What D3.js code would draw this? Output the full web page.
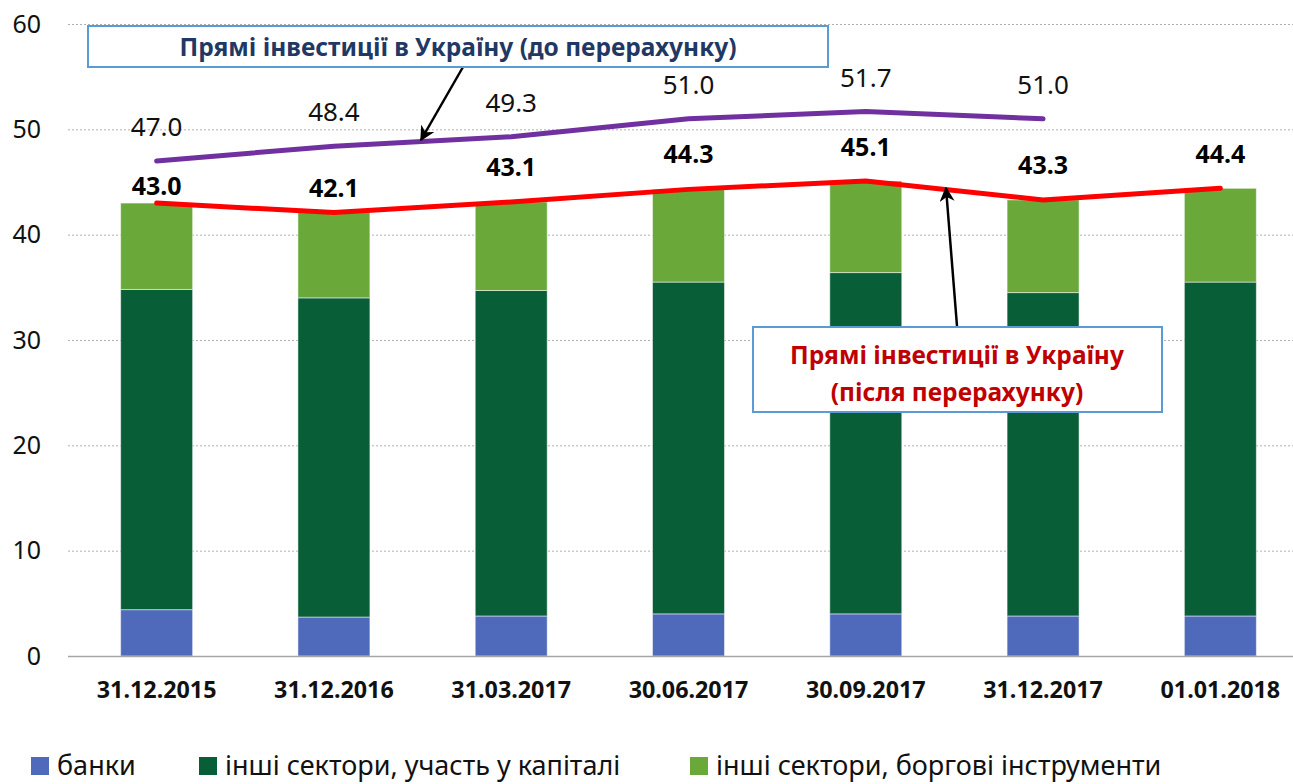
<!DOCTYPE html>
<html>
<head>
<meta charset="utf-8">
<script src="https://cdn.jsdelivr.net/npm/d3@7"></script>
<style>
  body { margin: 0; background: #fff; }
  text { font-family: "Noto Sans", "Open Sans", sans-serif; }
</style>
</head>
<body>
<div id="main"></div>
<script>
// data
var dates = ["31.12.2015", "31.12.2016", "31.03.2017", "30.06.2017", "30.09.2017", "31.12.2017", "01.01.2018"];
var banks = [4.4, 3.7, 3.8, 4.0, 4.0, 3.8, 3.8];
var equity = [30.4, 30.3, 30.9, 31.5, 32.4, 30.7, 31.7];
var totalAfter = [43.0, 42.1, 43.1, 44.3, 45.1, 43.3, 44.4];
var totalBefore = [47.0, 48.4, 49.3, 51.0, 51.7, 51.0];
var yTicks = [0, 10, 20, 30, 40, 50, 60];
var seriesNames = ["банки", "інші сектори, участь у капіталі", "інші сектори, боргові інструменти"];
var redLabelDy = [17, 24, 35, 35, 34, 35, 34];

var ctx = { w: 1293, h: 784 };
var colors = ["#4F69BB", "#085E37", "#6AA83A"];

var debt = totalAfter.map(function(t, i){ return +(t - banks[i] - equity[i]).toFixed(1); });

var createViz = function(){
    var svg = d3.select("#main").append("svg")
        .attr("width", ctx.w)
        .attr("height", ctx.h);

    var x = d3.scaleBand().domain(dates).range([68, 1309]).paddingInner(0.594).paddingOuter(0.297);
    var y = d3.scaleLinear().domain([0, 60]).range([656, 24]);

    // gridlines
    svg.append("g").selectAll("line")
        .data(yTicks.filter(function(d){ return d > 0; }))
        .enter().append("line")
        .attr("x1", 68).attr("x2", ctx.w)
        .attr("y1", function(d){ return y(d) + 0.5; })
        .attr("y2", function(d){ return y(d) + 0.5; })
        .attr("stroke", "#b0b0b0")
        .attr("stroke-dasharray", "2,2");

    // y labels
    svg.append("g").selectAll("text")
        .data(yTicks)
        .enter().append("text")
        .attr("x", 41).attr("y", function(d){ return y(d); })
        .attr("dy", "0.35em")
        .attr("text-anchor", "end")
        .attr("font-size", 25)
        .attr("fill", "#111")
        .text(function(d){ return d; });

    // stacked bars
    var rows = dates.map(function(d, i){ return { date: d, b: banks[i], e: equity[i], g: debt[i] }; });
    var stack = d3.stack().keys(["b", "e", "g"])(rows);
    svg.append("g").selectAll("g")
        .data(stack)
        .enter().append("g")
        .attr("fill", function(d, i){ return colors[i]; })
        .selectAll("rect")
        .data(function(d){ return d; })
        .enter().append("rect")
        .attr("x", function(d){ return x(d.data.date); })
        .attr("width", x.bandwidth())
        .attr("y", function(d){ return y(d[1]); })
        .attr("height", function(d){ return y(d[0]) - y(d[1]); })
        .attr("stroke", "#ffffff")
        .attr("stroke-opacity", 0.5)
        .attr("stroke-width", 1);

    // x axis line
    svg.append("line")
        .attr("x1", 68).attr("x2", ctx.w)
        .attr("y1", 656.5).attr("y2", 656.5)
        .attr("stroke", "#a6a6a6").attr("stroke-width", 1.5);

    // x labels
    svg.append("g").selectAll("text")
        .data(dates)
        .enter().append("text")
        .attr("x", function(d){ return x(d) + x.bandwidth()/2; })
        .attr("y", 690)
        .attr("dy", "0.35em")
        .attr("text-anchor", "middle")
        .attr("font-size", 23.3)
        .attr("font-weight", "bold")
        .attr("fill", "#111")
        .text(function(d){ return d; });

    var cx = function(i){ return x(dates[i]) + x.bandwidth()/2; };

    // lines
    var line = d3.line().x(function(d, i){ return cx(i); }).y(function(d){ return y(d); });
    svg.append("path").datum(totalBefore)
        .attr("d", line).attr("fill", "none")
        .attr("stroke", "#7030A0").attr("stroke-width", 5).attr("stroke-linecap", "round");
    svg.append("path").datum(totalAfter)
        .attr("d", line).attr("fill", "none")
        .attr("stroke", "#FF0000").attr("stroke-width", 5).attr("stroke-linecap", "round");

    // labels
    svg.append("g").selectAll("text")
        .data(totalBefore)
        .enter().append("text")
        .attr("x", function(d, i){ return cx(i); })
        .attr("y", function(d){ return y(d) - 34; })
        .attr("dy", "0.35em")
        .attr("text-anchor", "middle")
        .attr("font-size", 26)
        .attr("fill", "#111")
        .text(function(d){ return d.toFixed(1); });
    svg.append("g").selectAll("text")
        .data(totalAfter)
        .enter().append("text")
        .attr("x", function(d, i){ return cx(i); })
        .attr("y", function(d, i){ return y(d) - redLabelDy[i]; })
        .attr("dy", "0.35em")
        .attr("text-anchor", "middle")
        .attr("font-size", 25)
        .attr("font-weight", "bold")
        .attr("fill", "#000")
        .text(function(d){ return d.toFixed(1); });

    // arrow marker
    svg.append("defs").append("marker")
        .attr("id", "arr")
        .attr("viewBox", "0 0 10 10")
        .attr("refX", 9).attr("refY", 5)
        .attr("markerWidth", 6).attr("markerHeight", 6)
        .attr("markerUnits", "strokeWidth")
        .attr("orient", "auto")
        .append("path").attr("d", "M0,0 L10,5 L0,10 L3,5 Z").attr("fill", "#000");

    svg.append("line")
        .attr("x1", 463).attr("y1", 67).attr("x2", 421).attr("y2", 140)
        .attr("stroke", "#000").attr("stroke-width", 2.5).attr("marker-end", "url(#arr)");
    svg.append("line")
        .attr("x1", 957).attr("y1", 326).attr("x2", 946).attr("y2", 188)
        .attr("stroke", "#000").attr("stroke-width", 2.5).attr("marker-end", "url(#arr)");

    // annotation boxes
    svg.append("rect")
        .attr("x", 88).attr("y", 26).attr("width", 740).attr("height", 41)
        .attr("fill", "#fff").attr("stroke", "#5B9BD5").attr("stroke-width", 2);
    svg.append("text")
        .attr("x", 458).attr("y", 47).attr("dy", "0.35em")
        .attr("text-anchor", "middle").attr("font-size", 24.5).attr("font-weight", "bold")
        .attr("fill", "#1F3864")
        .text("Прямі інвестиції в Україну (до перерахунку)");

    svg.append("rect")
        .attr("x", 753).attr("y", 327).attr("width", 409).attr("height", 85)
        .attr("fill", "#fff").attr("stroke", "#5B9BD5").attr("stroke-width", 2);
    svg.append("text")
        .attr("x", 957).attr("y", 355).attr("dy", "0.35em")
        .attr("text-anchor", "middle").attr("font-size", 24.5).attr("font-weight", "bold")
        .attr("fill", "#C00000")
        .text("Прямі інвестиції в Україну");
    svg.append("text")
        .attr("x", 957).attr("y", 392).attr("dy", "0.35em")
        .attr("text-anchor", "middle").attr("font-size", 24.5).attr("font-weight", "bold")
        .attr("fill", "#C00000")
        .text("(після перерахунку)");

    // legend
    var legendX = [31, 199, 690];
    var lg = svg.append("g").selectAll("g")
        .data(seriesNames)
        .enter().append("g")
        .attr("transform", function(d, i){ return "translate(" + legendX[i] + ",757)"; });
    lg.append("rect").attr("width", 18).attr("height", 18).attr("fill", function(d, i){ return colors[i]; });
    lg.append("text").attr("x", 26).attr("y", 9).attr("dy", "0.35em")
        .attr("font-size", 27).attr("fill", "#111")
        .text(function(d){ return d; });
};

createViz();
</script>
</body>
</html>
